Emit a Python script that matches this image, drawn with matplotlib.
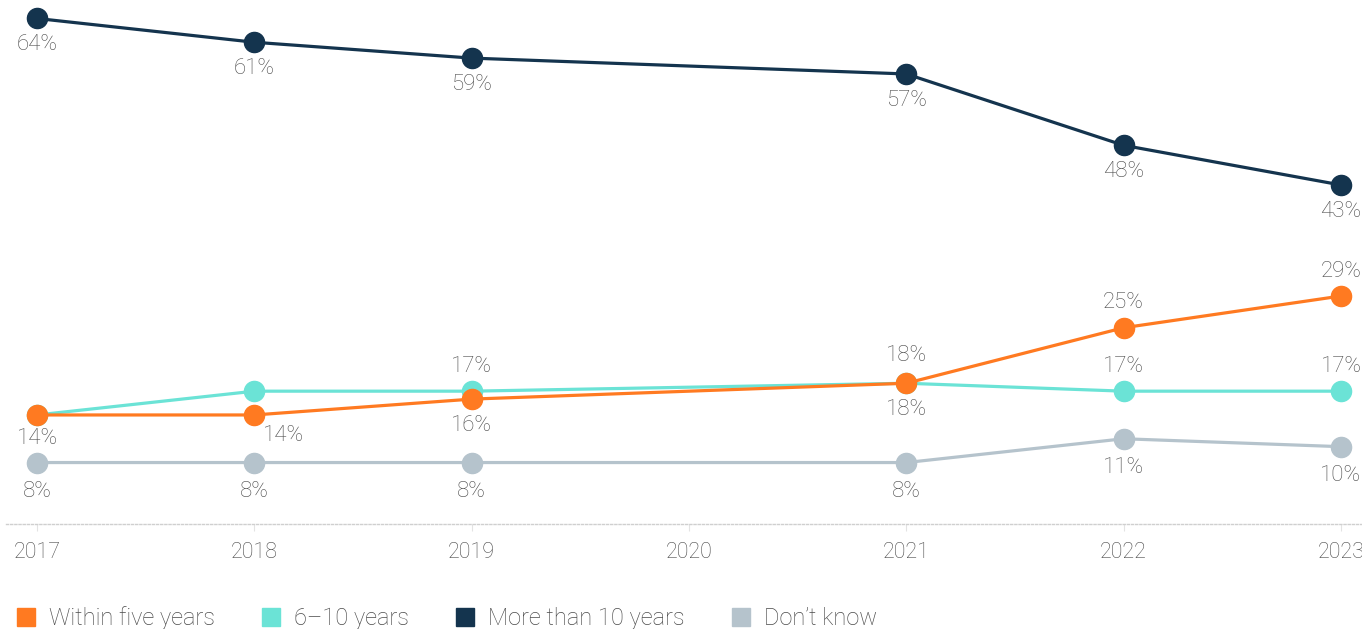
import matplotlib
matplotlib.use("Agg")
import matplotlib.pyplot as plt
from matplotlib.lines import Line2D

plt.rcParams['font.family'] = ['Roboto', 'DejaVu Sans']

# Survey years (2020 has no data point)
years = [2017, 2018, 2019, 2021, 2022, 2023]
tick_years = [2017, 2018, 2019, 2020, 2021, 2022, 2023]

within_five = [14, 14, 16, 18, 25, 29]
six_to_ten = [14, 17, 17, 18, 17, 17]
more_than_ten = [64, 61, 59, 57, 48, 43]
dont_know = [8, 8, 8, 8, 11, 10]

series_labels = ["Within five years", "6\u201310 years", "More than 10 years", "Don\u2019t know"]
colors = ["#FF7A21", "#6BE3D6", "#14344E", "#B5C3CC"]
text_color = "#4a4a4a"

W, H = 1362, 629
fig = plt.figure(figsize=(W / 100, H / 100), dpi=100)
ax = fig.add_axes([6 / W, 105 / H, 1 - 6 / W, 524 / H])

ms = 14.5
lw = 2.3
ax.plot(years, dont_know, color=colors[3], lw=lw, marker="o", ms=ms, zorder=2, clip_on=False)
ax.plot(years, six_to_ten, color=colors[1], lw=lw, marker="o", ms=ms, zorder=3, clip_on=False)
ax.plot(years, within_five, color=colors[0], lw=lw, marker="o", ms=ms, zorder=4, clip_on=False)
ax.plot(years, more_than_ten, color=colors[2], lw=lw, marker="o", ms=ms, zorder=5, clip_on=False)


def label(x, y, dx, dy):
    ax.annotate(f"{y}%", (x, y), xytext=(dx, dy), textcoords="offset points",
                ha="center", va="center", fontsize=16, color=text_color,
                fontweight="light", annotation_clip=False)


below = -19
above = 18
for x, v in zip(years, more_than_ten):
    label(x, v, 0, below)
for x, v in zip(years, dont_know):
    label(x, v, 0, -21)
# Within five years
label(2017, within_five[0], 0, -17)
label(2018, within_five[1], 21, -15)
label(2019, within_five[2], 0, below)
label(2021, within_five[3], 0, below)
label(2022, within_five[4], 0, above)
label(2023, within_five[5], 0, above)
# 6-10 years
label(2019, six_to_ten[2], 0, above)
label(2021, six_to_ten[3], 0, 20)
label(2022, six_to_ten[4], 0, above)
label(2023, six_to_ten[5], 0, above)

ax.set_xlim(2017 - 31 / 217.3, 2023 + 21 / 217.3)
ax.set_ylim(0.25, 524 / 7.93 + 0.25)
ax.set_xticks(tick_years)
ax.set_xticklabels([str(y) for y in tick_years], fontsize=15.5, color=text_color, fontweight="light")
ax.tick_params(axis="x", length=5, width=0.8, color="#e3e3e3", pad=8)
ax.set_yticks([])
for s in ["top", "right", "left"]:
    ax.spines[s].set_visible(False)
ax.spines["bottom"].set_color("#cfcfcf")
ax.spines["bottom"].set_linewidth(1.0)
ax.spines["bottom"].set_linestyle((0, (1.5, 1.5)))

handles = [Line2D([], [], marker="s", ls="none", color=c, ms=13) for c in colors]
leg = fig.legend(handles, series_labels, loc="lower left", bbox_to_anchor=(-1 / W, -18 / H),
                 ncol=4, frameon=False, fontsize=17, handlelength=0.9, handletextpad=0.5,
                 columnspacing=1.95, borderaxespad=0.3)
for t in leg.get_texts():
    t.set_color(text_color)
    t.set_fontweight("light")

fig.savefig("out.png", dpi=100)
